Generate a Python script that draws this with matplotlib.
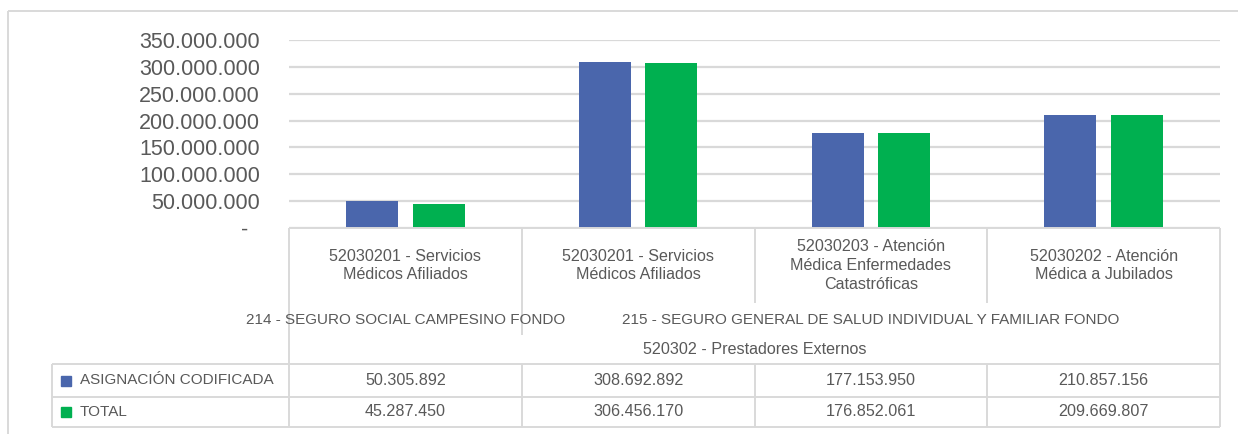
import matplotlib
matplotlib.use("Agg")
import matplotlib.pyplot as plt
from matplotlib.transforms import blended_transform_factory
from matplotlib.ticker import FuncFormatter

# ---- data ----
categories = [
    "52030201 - Servicios\nMédicos Afiliados",
    "52030201 - Servicios\nMédicos Afiliados",
    "52030203 - Atención\nMédica Enfermedades\nCatastróficas",
    "52030202 - Atención\nMédica a Jubilados",
]
groups = [
    ("214 - SEGURO SOCIAL CAMPESINO FONDO", 0, 0),
    ("215 - SEGURO GENERAL DE SALUD INDIVIDUAL Y FAMILIAR FONDO", 1, 3),
]
top_group = ("520302 - Prestadores Externos", 0, 3)
series_names = ["ASIGNACIÓN CODIFICADA", "TOTAL"]
asignacion = [50305892, 308692892, 177153950, 210857156]
total = [45287450, 306456170, 176852061, 209669807]
yticks = [0, 50000000, 100000000, 150000000, 200000000, 250000000, 300000000, 350000000]

colors = ["#4a66ac", "#00b050"]
grid_c = "#d9d9d9"
text_c = "#595959"
FONT = "Liberation Sans"

W, H = 1238, 434
fig = plt.figure(figsize=(W / 100, H / 100), dpi=100)
fig.patch.set_facecolor("white")

# plot area in pixels
L, R, T, B = 289, 1220, 40, 228
ax = fig.add_axes([L / W, 1 - B / H, (R - L) / W, (B - T) / H])
ax.set_facecolor("none")
ax.set_xlim(-0.5, 3.5)
ax.set_ylim(0, 350000000)

n = len(categories)
xs = list(range(n))
bw = 0.223
off = 0.143
ax.bar([x - off for x in xs], asignacion, width=bw, color=colors[0], zorder=3)
ax.bar([x + off for x in xs], total, width=bw, color=colors[1], zorder=3)

ax.set_yticks(yticks)
def fmt(v, p):
    if v == 0:
        return "-  "
    return f"{int(v):,}".replace(",", ".")
ax.yaxis.set_major_formatter(FuncFormatter(fmt))
ax.tick_params(axis="y", length=0, pad=21, labelsize=15.5, labelcolor=text_c)
for lab in ax.get_yticklabels():
    lab.set_fontfamily(FONT)
ax.set_xticks([])
ax.grid(axis="y", color=grid_c, linewidth=1.6, zorder=0)
for s in ax.spines.values():
    s.set_visible(False)

# overlay for the table (pixel coords)
ov = fig.add_axes([0, 0, 1, 1], zorder=5)
ov.set_xlim(0, W)
ov.set_ylim(H, 0)
ov.axis("off")
ov.patch.set_alpha(0)
tr = blended_transform_factory(ax.transData, ov.transData)

lc = grid_c
lw = 1.4
fs = 11.6
fs_caps = 11.0

def hline(y, x0, x1):
    ov.plot([x0, x1], [y, y], color=lc, lw=lw, solid_capstyle="butt", zorder=1)

def vline(x, y0, y1, t=tr):
    ov.plot([x, x], [y0, y1], color=lc, lw=lw, transform=t, solid_capstyle="butt", zorder=1)

# outer chart frame
hline(11, 8, W + 5)
vline(8, 11, H + 5, t=ov.transData)

# table lines
row_top, row_mid, row_bot = 364, 397, 427
hline(B, L, R)
for y in (row_top, row_mid, row_bot):
    hline(y, 52, R)
vline(52, row_top, row_bot, t=ov.transData)
vline(-0.5, B, row_bot)
vline(3.5, B, row_bot)
for b in (0.5, 1.5, 2.5):
    vline(b, B, 303)
    vline(b, row_top, row_bot)
vline(0.5, 303, 335)

# category labels
for x, c in zip(xs, categories):
    ov.text(x, 265.5, c, transform=tr, ha="center", va="center", fontsize=fs,
            color=text_c, family=FONT, linespacing=1.3, zorder=3)
for name, a, b in groups:
    ov.text((a + b) / 2, 320, name, transform=tr, ha="center", va="center",
            fontsize=fs_caps, color=text_c, family=FONT, zorder=3)
ov.text((top_group[1] + top_group[2]) / 2, 349, top_group[0], transform=tr,
        ha="center", va="center", fontsize=fs, color=text_c, family=FONT, zorder=3)

# data rows
def numfmt(v):
    return f"{int(v):,}".replace(",", ".")
row_y = [(row_top + row_mid) / 2, (row_mid + row_bot) / 2]
for i, (name, vals) in enumerate(zip(series_names, [asignacion, total])):
    y = row_y[i]
    ov.add_patch(plt.Rectangle((61, y - 5), 10, 10, color=colors[i], zorder=3))
    ov.text(80, y, name, ha="left", va="center", fontsize=fs_caps, color=text_c,
            family=FONT, zorder=3)
    for x, v in zip(xs, vals):
        ov.text(x, y, numfmt(v), transform=tr, ha="center", va="center",
                fontsize=fs, color=text_c, family=FONT, zorder=3)

fig.savefig("out.png", dpi=100)
